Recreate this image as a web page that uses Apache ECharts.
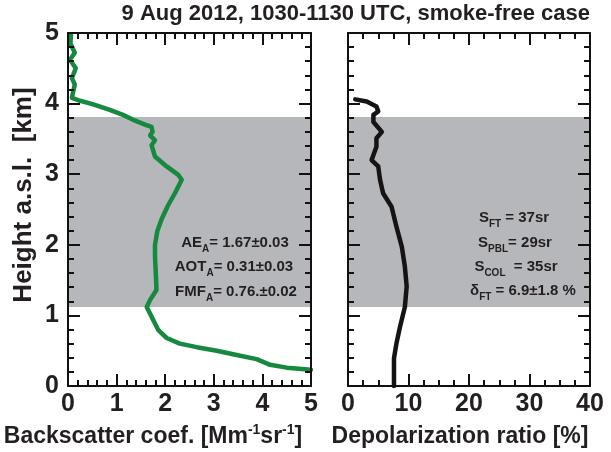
<!DOCTYPE html>
<html>
<head>
<meta charset="utf-8">
<script src="https://cdn.jsdelivr.net/npm/echarts@6/dist/echarts.min.js"></script>
<style>html,body{margin:0;padding:0;background:#fff}#c{width:611px;height:452px}</style>
</head>
<body>
<div id="c"></div>
<script>
// ---- data ----
var title = '9 Aug 2012, 1030-1130 UTC, smoke-free case';
var bscHeight = [4.97,4.85,4.72,4.62,4.50,4.36,4.27,4.15,4.08,4.04,3.99,3.91,3.84,3.77,3.70,3.67,3.60,3.55,3.48,3.41,3.25,3.11,2.99,2.92,2.73,2.56,2.37,2.20,2.00,1.83,1.55,1.36,1.22,1.12,0.98,0.79,0.68,0.60,0.55,0.50,0.44,0.38,0.30,0.26,0.23];
var bscValue  = [0.06,0.05,0.14,0.04,0.16,0.08,0.14,0.10,0.08,0.25,0.52,0.86,1.13,1.34,1.60,1.72,1.74,1.69,1.79,1.72,1.79,2.03,2.27,2.34,2.20,2.06,1.93,1.84,1.79,1.79,1.81,1.82,1.69,1.62,1.72,1.86,2.03,2.30,2.65,3.06,3.47,3.88,4.16,4.50,5.00];
var depHeight = [4.06,4.03,3.96,3.89,3.84,3.74,3.60,3.51,3.39,3.20,3.11,2.92,2.73,2.54,2.26,1.97,1.69,1.41,1.12,0.84,0.60,0.39,0.00];
var depValue  = [1.2,3.1,4.7,5.0,4.2,4.2,5.6,4.7,4.7,3.9,5.0,5.3,5.8,7.2,8.0,8.9,9.4,9.7,9.4,8.6,8.0,7.6,7.6];
var layerBottom = 1.12, layerTop = 3.81;
var heightTicks = [0,1,2,3,4,5];
var bscTicks = [0,1,2,3,4,5];
var depTicks = [0,10,20,30,40];
var leftNotes = [
  ['AE','A','= 1.67±0.03'],
  ['AOT','A','= 0.31±0.03'],
  ['FMF','A','= 0.76.±0.02']
];
var rightNotes = [
  ['S','FT',' = 37sr'],
  ['S','PBL','= 29sr'],
  ['S','COL','  = 35sr'],
  ['δ','FT',' = 6.9±1.8 %']
];
var xNameLeft = ['Backscatter coef. [Mm','-1','sr','-1',']'];
var xNameRight = 'Depolarization ratio [%]';
var yName = 'Height a.s.l.  [km]';

// ---- chart ----
var FF = '"Liberation Sans", Arial, Helvetica, sans-serif';
var TXT = '#231f20';
var chart = echarts.init(document.getElementById('c'), null, {renderer:'canvas'});

function zip(a,b){ return a.map(function(v,i){ return [v,b[i]]; }); }

function valAxis(gridIndex, pos, min, max, interval, minorSplit, showLabel){
  return {
    type:'value', gridIndex:gridIndex, position:pos, min:min, max:max, interval:interval, z:10,
    axisLine:{show:true, onZero:false, lineStyle:{color:'#111', width:2}},
    axisTick:{show:true, inside:true, length:12, lineStyle:{color:'#111', width:2}},
    minorTick:{show:true, splitNumber:minorSplit, length:6, lineStyle:{color:'#111', width:2}},
    splitLine:{show:false}, minorSplitLine:{show:false},
    axisLabel:{show:showLabel, color:TXT, fontFamily:FF, fontWeight:'bold', fontSize:25, margin:(pos==='left'?9:6)}
  };
}

var band = {
  silent:true,
  itemStyle:{color:'#b6b7bb', opacity:1},
  data:[[{yAxis:layerBottom},{yAxis:layerTop}]]
};

function noteText(n){
  return '{m|'+n[0]+'}{s|'+n[1]+'}{m|'+n[2]+'}';
}
var noteRich = {
  m:{fontFamily:FF, fontWeight:'bold', fontSize:15, fill:TXT, lineHeight:22, verticalAlign:'middle'},
  s:{fontFamily:FF, fontWeight:'bold', fontSize:10, fill:TXT, lineHeight:10, verticalAlign:'bottom'}
};
var leftPos = [[235,243],[234,267],[236,292]];
var rightPos = [[514,218],[515,243],[516,267],[523,291]];
var graphics = [];
leftNotes.forEach(function(n,i){
  graphics.push({type:'text', x:leftPos[i][0], y:leftPos[i][1], z:20,
    style:{text:noteText(n), rich:noteRich, align:'center', verticalAlign:'middle'}});
});
rightNotes.forEach(function(n,i){
  graphics.push({type:'text', x:rightPos[i][0], y:rightPos[i][1], z:20,
    style:{text:noteText(n), rich:noteRich, align:'center', verticalAlign:'middle'}});
});
graphics.push({type:'text', x:590, y:14, style:{text:title, align:'right', verticalAlign:'middle',
  font:'bold 22px '+FF, fill:TXT}});
graphics.push({type:'text', x:24, y:195, rotation:Math.PI/2, style:{text:yName, align:'center', verticalAlign:'middle',
  font:'bold 26px '+FF, fill:TXT}});
var supRich = {
  n:{fontFamily:FF, fontWeight:'bold', fontSize:23, fill:TXT, lineHeight:28, verticalAlign:'middle'},
  p:{fontFamily:FF, fontWeight:'bold', fontSize:14, fill:TXT, lineHeight:14, verticalAlign:'top'}
};
graphics.push({type:'text', x:153, y:437, style:{
  text:'{n|'+xNameLeft[0]+'}{p|'+xNameLeft[1]+'}{n|'+xNameLeft[2]+'}{p|'+xNameLeft[3]+'}{n|'+xNameLeft[4]+'}',
  rich:supRich, align:'center', verticalAlign:'middle'}});
graphics.push({type:'text', x:460, y:437, style:{text:xNameRight, align:'center', verticalAlign:'middle',
  font:'bold 23px '+FF, fill:TXT}});

var option = {
  animation:false,
  backgroundColor:'#fff',
  grid:[
    {left:68, top:33, width:243, height:353},
    {left:348, top:33, width:242, height:353}
  ],
  xAxis:[
    valAxis(0,'bottom',bscTicks[0],bscTicks[bscTicks.length-1],1,5,true),
    valAxis(0,'top',bscTicks[0],bscTicks[bscTicks.length-1],1,5,false),
    valAxis(1,'bottom',depTicks[0],depTicks[depTicks.length-1],10,4,true),
    valAxis(1,'top',depTicks[0],depTicks[depTicks.length-1],10,4,false)
  ],
  yAxis:[
    valAxis(0,'left',heightTicks[0],heightTicks[heightTicks.length-1],1,5,true),
    valAxis(0,'right',heightTicks[0],heightTicks[heightTicks.length-1],1,5,false),
    valAxis(1,'left',heightTicks[0],heightTicks[heightTicks.length-1],1,5,false),
    valAxis(1,'right',heightTicks[0],heightTicks[heightTicks.length-1],1,5,false)
  ],
  series:[
    {type:'line', xAxisIndex:0, yAxisIndex:0, data:zip(bscValue,bscHeight), showSymbol:false, symbol:'none',
     lineStyle:{color:'#14893f', width:4.5, join:'round', cap:'round'}, markArea:band, z:3},
    {type:'line', xAxisIndex:2, yAxisIndex:2, data:zip(depValue,depHeight), showSymbol:false, symbol:'none',
     lineStyle:{color:'#161314', width:4.5, join:'round', cap:'round'}, markArea:band, z:3}
  ],
  graphic:graphics
};
chart.setOption(option);
</script>
</body>
</html>
